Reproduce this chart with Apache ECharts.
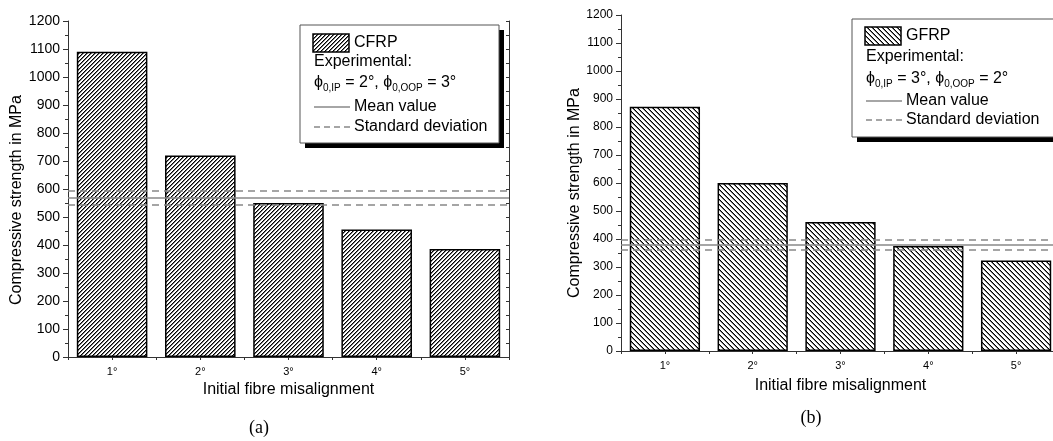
<!DOCTYPE html>
<html>
<head>
<meta charset="utf-8">
<script src="https://cdn.jsdelivr.net/npm/echarts@6/dist/echarts.min.js"></script>
<style>
  html, body { margin: 0; padding: 0; background: #fff; overflow: hidden; }
  #chart { width: 1066px; height: 441px; }
</style>
</head>
<body>
<div id="chart"></div>
<script>
// data
var categories = ['1°', '2°', '3°', '4°', '5°'];
var cfrpValues = [1090, 720, 550, 455, 386];
var gfrpValues = [872, 600, 461, 375, 323];
var cfrpMean = 568;
var cfrpStd = [543, 592];
var gfrpMean = 380;
var gfrpStd = [362, 398];

var FONT = 'Liberation Sans, Arial, sans-serif';
var AXIS_COLOR = '#333';
var REF_COLOR = '#888';

// hatch tile, forward = '/' , otherwise '\'
function hatch(size, forward) {
  var c = document.createElement('canvas');
  c.width = size;
  c.height = size;
  var ctx = c.getContext('2d');
  ctx.fillStyle = '#fff';
  ctx.fillRect(0, 0, size, size);
  for (var i = 0; i < size; i++) {
    var x = forward ? size - 1 - i : i;
    ctx.fillStyle = '#000';
    ctx.fillRect(x, i, 1, 1);
    ctx.fillStyle = '#777';
    ctx.fillRect(forward ? (x + 1) % size : (x + size - 1) % size, i, 1, 1);
  }
  return c;
}
var hatchA = hatch(4, true);
var hatchB = hatch(5, false);

function xAxes(g, nameGap) {
  return [
    {
      gridIndex: g,
      type: 'category',
      data: categories,
      axisLine: { lineStyle: { color: AXIS_COLOR, width: 1 } },
      axisTick: { alignWithLabel: true, length: 5, lineStyle: { color: AXIS_COLOR } },
      axisLabel: { color: '#000', fontSize: 11, margin: 9, fontFamily: FONT },
      name: 'Initial fibre misalignment',
      nameLocation: 'middle',
      nameGap: nameGap,
      nameTextStyle: { color: '#000', fontSize: 16, fontFamily: FONT }
    },
    {
      gridIndex: g,
      type: 'value',
      position: 'top',
      min: 0.5,
      max: 5.5,
      interval: 0.5,
      axisLine: { show: true, lineStyle: { color: AXIS_COLOR, width: 1 } },
      axisTick: { show: true, inside: true, length: 3, lineStyle: { color: AXIS_COLOR } },
      axisLabel: { show: false },
      splitLine: { show: false }
    }
  ];
}

function yAxes(g, labelSize, nameGap, namePad) {
  return [
    {
      gridIndex: g,
      type: 'value',
      min: 0,
      max: 1200,
      interval: 100,
      axisLine: { show: true, lineStyle: { color: AXIS_COLOR, width: 1 } },
      axisTick: { show: true, length: 5, lineStyle: { color: AXIS_COLOR } },
      minorTick: { show: true, splitNumber: 2, length: 3, lineStyle: { color: AXIS_COLOR } },
      splitLine: { show: false },
      axisLabel: {
        color: '#000', fontSize: labelSize, margin: 8, fontFamily: FONT,
        formatter: function (v) { return String(v); }
      },
      name: 'Compressive strength in MPa',
      nameLocation: 'middle',
      nameGap: nameGap,
      nameTextStyle: { color: '#000', fontSize: 16, fontFamily: FONT, padding: [0, namePad, 0, 0] }
    },
    {
      gridIndex: g,
      type: 'value',
      position: 'right',
      min: 0,
      max: 1200,
      interval: 50,
      axisLine: { show: true, lineStyle: { color: AXIS_COLOR, width: 1 } },
      axisTick: { show: true, inside: true, length: 3, lineStyle: { color: AXIS_COLOR } },
      axisLabel: { show: false },
      splitLine: { show: false }
    }
  ];
}

function barSeries(xi, yi, values, pattern, mean, std) {
  return {
    type: 'bar',
    xAxisIndex: xi,
    yAxisIndex: yi,
    data: values,
    barCategoryGap: '20%',
    itemStyle: {
      color: { image: pattern, repeat: 'repeat' },
      borderColor: '#000',
      borderWidth: 1.5
    },
    markLine: {
      silent: true,
      symbol: ['none', 'none'],
      label: { show: false },
      lineStyle: { color: REF_COLOR, width: 1.5 },
      data: [
        { yAxis: mean, lineStyle: { type: 'solid', color: REF_COLOR, width: 1.5 } },
        { yAxis: std[0], lineStyle: { type: [7, 5], color: REF_COLOR, width: 1.5 } },
        { yAxis: std[1], lineStyle: { type: [7, 5], color: REF_COLOR, width: 1.5 } }
      ]
    }
  };
}

function legendBox(x0, y0, w, h, pattern, name, ip, oop, rows) {
  var txt = { fontSize: 16, fill: '#000', fontFamily: FONT, verticalAlign: 'middle' };
  function t(x, y, s) {
    return { type: 'text', x: x, y: y, style: Object.assign({ text: s }, txt) };
  }
  return {
    type: 'group',
    children: [
      { type: 'rect', shape: { x: x0 + 5, y: y0 + 5, width: w, height: h }, style: { fill: '#000' } },
      { type: 'rect', shape: { x: x0, y: y0, width: w, height: h }, style: { fill: '#fff', stroke: '#555', lineWidth: 1 } },
      { type: 'rect', shape: { x: x0 + 13, y: y0 + rows[0] - 9, width: 36, height: 18 },
        style: { fill: { image: pattern, repeat: 'repeat' }, stroke: '#000', lineWidth: 1.5 } },
      t(x0 + 54, y0 + rows[0], name),
      t(x0 + 14, y0 + rows[1], 'Experimental:'),
      {
        type: 'text', x: x0 + 14, y: y0 + rows[2],
        style: {
          text: '{p|ϕ}{s|0,IP}{p| = ' + ip + ', ϕ}{s|0,OOP}{p| = ' + oop + '}',
          fontFamily: FONT, verticalAlign: 'middle',
          rich: {
            p: { fontSize: 16, fill: '#000', lineHeight: 20, fontFamily: FONT },
            s: { fontSize: 10, fill: '#000', lineHeight: 10, verticalAlign: 'bottom', fontFamily: FONT }
          }
        }
      },
      { type: 'line', shape: { x1: x0 + 14, y1: y0 + rows[3], x2: x0 + 50, y2: y0 + rows[3] },
        style: { stroke: REF_COLOR, lineWidth: 1.5 } },
      t(x0 + 54, y0 + rows[3], 'Mean value'),
      { type: 'line', shape: { x1: x0 + 14, y1: y0 + rows[4], x2: x0 + 50, y2: y0 + rows[4] },
        style: { stroke: REF_COLOR, lineWidth: 1.5, lineDash: [6, 4] } },
      t(x0 + 54, y0 + rows[4], 'Standard deviation')
    ]
  };
}

var myChart = echarts.init(document.getElementById('chart'));
var option = {
  animation: false,
  backgroundColor: '#fff',
  textStyle: { fontFamily: FONT },
  grid: [
    { left: 68, top: 21, width: 441, height: 336 },
    { left: 621, top: 15, width: 439, height: 336 }
  ],
  xAxis: xAxes(0, 25).concat(xAxes(1, 27)),
  yAxis: yAxes(0, 14, 33, 22).concat(yAxes(1, 12, 36, 20)),
  series: [
    barSeries(0, 0, cfrpValues, hatchA, cfrpMean, cfrpStd),
    barSeries(2, 2, gfrpValues, hatchB, gfrpMean, gfrpStd)
  ],
  graphic: [
    legendBox(300, 25, 199, 118, hatchA, 'CFRP', '2°', '3°', [18, 37, 58, 82, 102]),
    legendBox(852, 19, 210, 118, hatchB, 'GFRP', '3°', '2°', [17, 38, 60, 82, 101]),
    { type: 'text', x: 259, y: 428,
      style: { text: '(a)', fontSize: 18, fontFamily: 'Liberation Serif, serif', fill: '#000', align: 'center', verticalAlign: 'middle' } },
    { type: 'text', x: 811, y: 418,
      style: { text: '(b)', fontSize: 18, fontFamily: 'Liberation Serif, serif', fill: '#000', align: 'center', verticalAlign: 'middle' } }
  ]
};
// 把配置给实例对象
myChart.setOption(option);
</script>
</body>
</html>
